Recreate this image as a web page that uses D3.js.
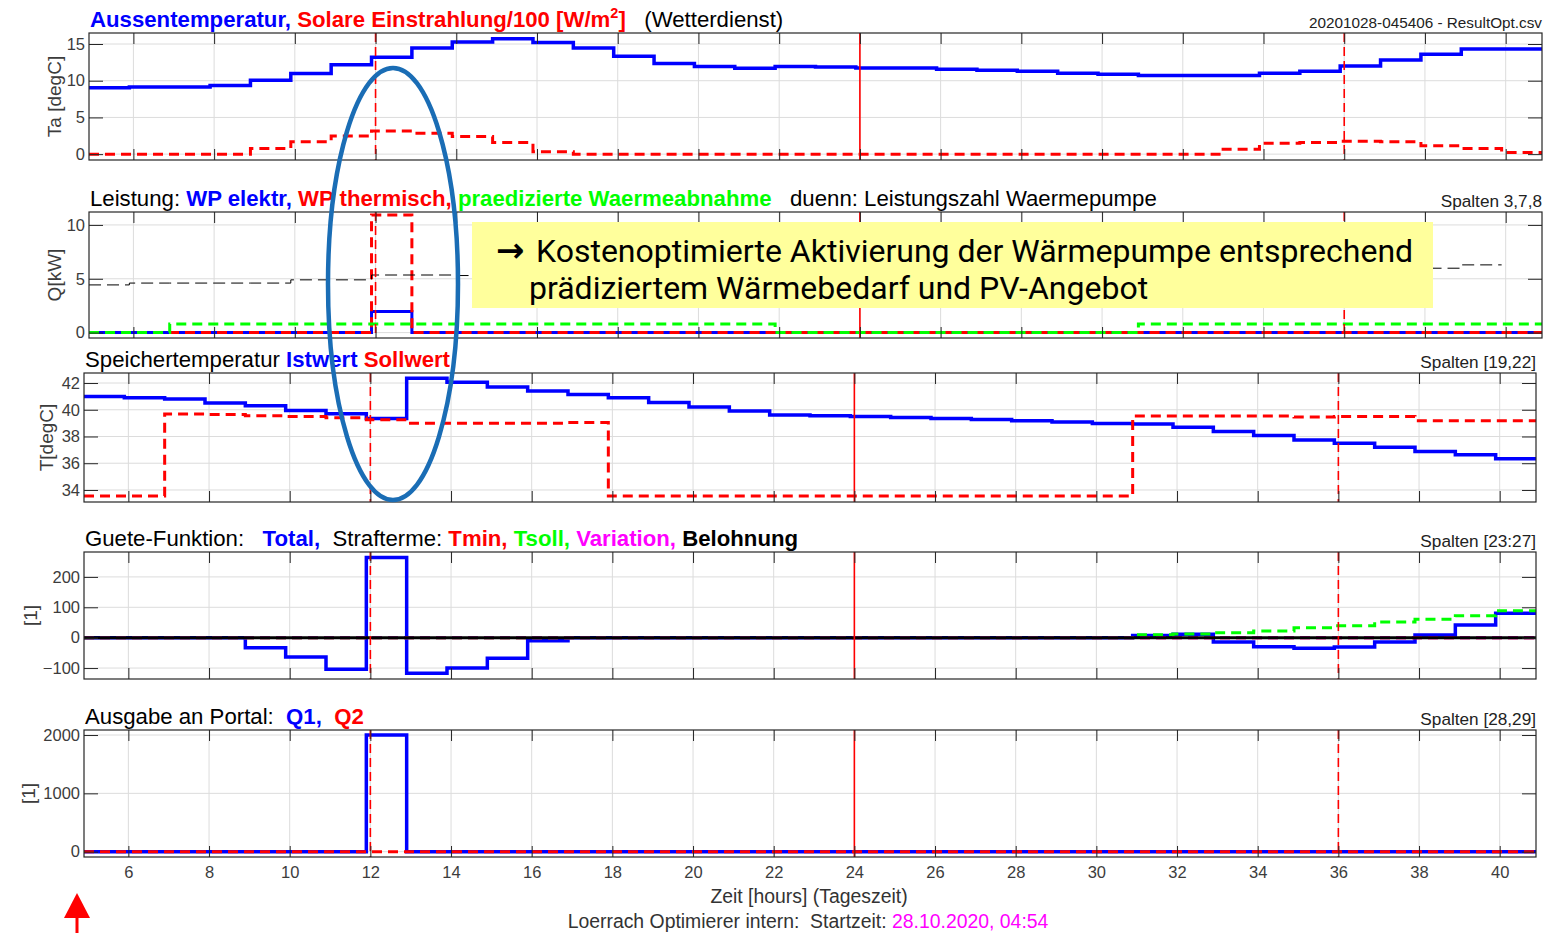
<!DOCTYPE html>
<html>
<head>
<meta charset="utf-8">
<script src="https://cdn.jsdelivr.net/npm/d3@7"></script>
<style>
  html, body { margin: 0; padding: 0; background: #ffffff; }
  svg { display: block; }
  text { white-space: pre; }
</style>
</head>
<body>
<svg id="chart" width="1562" height="933"></svg>
<script>
// ---- time base: hourly optimiser steps starting 28.10.2020 04:54 ----
const hours = [4.9, 5.9, 6.9, 7.9, 8.9, 9.9, 10.9, 11.9, 12.9, 13.9, 14.9, 15.9,
               16.9, 17.9, 18.9, 19.9, 20.9, 21.9, 22.9, 23.9, 24.9, 25.9, 26.9, 27.9,
               28.9, 29.9, 30.9, 31.9, 32.9, 33.9, 34.9, 35.9, 36.9, 37.9, 38.9, 39.9];
const hourEnd = 40.9;
const xTickValues = [6, 8, 10, 12, 14, 16, 18, 20, 22, 24, 26, 28, 30, 32, 34, 36, 38, 40];
const noonHours = [12, 36];
const midnightHours = [24];

// ---- weather service ----
const outsideTemp = [9.03, 9.16, 9.16, 9.35, 10.07, 10.97, 12.19, 13.18, 14.45, 15.26, 15.71, 15.21,
                     14.45, 13.32, 12.33, 11.92, 11.69, 11.92, 11.87, 11.74, 11.74, 11.56, 11.42, 11.29,
                     11.02, 10.88, 10.7, 10.7, 10.7, 11.02, 11.29, 12.0, 12.82, 13.59, 14.31, 14.31];
const solarPer100 = [0, 0, 0, 0, 0.77, 1.67, 2.48, 3.16, 2.84, 2.39, 1.58, 0.32,
                     0, 0, 0, 0, 0, 0, 0, 0, 0, 0, 0, 0,
                     0, 0, 0, 0, 0.68, 1.49, 1.58, 1.75, 1.7, 1.13, 0.77, 0.23];
const taTicks = [0, 5, 10, 15];

// ---- power [kW] ----
const powerElectric = [0, 0, 0, 0, 0, 0, 0, 1.95, 0, 0, 0, 0,
                       0, 0, 0, 0, 0, 0, 0, 0, 0, 0, 0, 0,
                       0, 0, 0, 0, 0, 0, 0, 0, 0, 0, 0, 0];
const powerThermal = [0, 0, 0, 0, 0, 0, 0, 10.93, 0, 0, 0, 0,
                      0, 0, 0, 0, 0, 0, 0, 0, 0, 0, 0, 0,
                      0, 0, 0, 0, 0, 0, 0, 0, 0, 0, 0, 0];
const heatDemand = [0, 0, 0.81, 0.81, 0.81, 0.81, 0.81, 0.81, 0.81, 0.81, 0.81, 0.81,
                    0.81, 0.81, 0.81, 0.81, 0.81, 0, 0, 0, 0, 0, 0, 0,
                    0, 0, 0.81, 0.81, 0.81, 0.81, 0.81, 0.81, 0.81, 0.81, 0.81, 0.81];
const copHeatPump = [4.43, 4.6, 4.6, 4.6, 4.6, 4.9, 4.9, 5.35, 5.35, 5.3, 5.3, 5.25,
                     5.2, 5.15, 5.1, 5.05, 5.0, 5.0, 4.95, 4.95, 4.95, 4.9, 4.9, 4.9,
                     4.85, 4.85, 4.85, 4.9, 4.95, 5.05, 5.2, 5.45, 5.7, 5.98, 6.29, null];
const qTicks = [0, 5, 10];

// ---- storage temperature [degC] ----
const storageActual = [41.0, 40.9, 40.8, 40.5, 40.3, 39.95, 39.7, 39.35, 42.35, 42.05, 41.7, 41.4,
                       41.15, 40.9, 40.55, 40.2, 39.9, 39.6, 39.55, 39.5, 39.43, 39.35, 39.28, 39.18,
                       39.08, 38.98, 38.93, 38.7, 38.38, 38.08, 37.73, 37.5, 37.2, 36.88, 36.63, 36.33];
const storageTarget = [33.55, 33.55, 39.68, 39.65, 39.55, 39.5, 39.4, 39.25, 39.0, 39.0, 39.0, 39.0,
                       39.05, 33.55, 33.55, 33.55, 33.55, 33.55, 33.55, 33.55, 33.55, 33.55, 33.55, 33.55,
                       33.55, 33.55, 39.53, 39.53, 39.53, 39.53, 39.45, 39.5, 39.5, 39.18, 39.18, 39.18];
const tTicks = [34, 36, 38, 40, 42];

// ---- cost function terms [1] ----
const costTotal = [0, 0, 0, 0, -33, -64, -104, 264, -117, -100, -68, -10,
                   0, 0, 0, 0, 0, 0, 0, 0, 0, 0, 0, 0,
                   0, 0, 7, 11, -14, -30, -35, -31, -14, 9, 42, 80];
const penaltyTmin = [0, 0, 0, 0, 0, 0, 0, 0, 0, 0, 0, 0,
                     0, 0, 0, 0, 0, 0, 0, 0, 0, 0, 0, 0,
                     0, 0, 0, 0, 0, 0, 0, 0, 0, 0, 0, 0];
const penaltyTsoll = [0, 0, 0, 0, 0, 0, 0, 0, 0, 0, 0, 0,
                      0, 0, 0, 0, 0, 0, 0, 0, 0, 0, 0, 0,
                      0, 0, 10, 12, 16, 22, 33, 39, 52, 61, 72, 89];
const penaltyVariation = [0, 0, 0, 0, 0, 0, 0, 0, 0, 0, 0, 0,
                          0, 0, 0, 0, 0, 0, 0, 0, 0, 0, 0, 0,
                          0, 0, 0, 0, 0, 0, 0, 0, 0, 0, 0, 0];
const reward = [0, 0, 0, 0, 0, 0, 0, 0, 0, 0, 0, 0,
                0, 0, 0, 0, 0, 0, 0, 0, 0, 0, 0, 0,
                0, 0, 0, 0, 0, 0, 0, 0, 0, 0, 0, 0];
const costTicks = [-100, 0, 100, 200];

// ---- output to portal [1] ----
const portalQ1 = [0, 0, 0, 0, 0, 0, 0, 2000, 0, 0, 0, 0,
                  0, 0, 0, 0, 0, 0, 0, 0, 0, 0, 0, 0,
                  0, 0, 0, 0, 0, 0, 0, 0, 0, 0, 0, 0];
const portalQ2 = [0, 0, 0, 0, 0, 0, 0, 0, 0, 0, 0, 0,
                  0, 0, 0, 0, 0, 0, 0, 0, 0, 0, 0, 0,
                  0, 0, 0, 0, 0, 0, 0, 0, 0, 0, 0, 0];
const portalTicks = [0, 1000, 2000];

// ---------------------------------------------------------------------------
const FONT = '"Liberation Sans", Arial, Helvetica, sans-serif';
const BLUE = "#0000ff", RED = "#ff0000", GREEN = "#00ff00", MAGENTA = "#ff00ff", BLACK = "#000000";
const AXIS = "#262626", TICKTXT = "#3c3c3c", GRID = "#dcdcdc";

const svg = d3.select("#chart").attr("font-family", FONT);
const defs = svg.append("defs");

// hold each value from its own step start to the next step start
function stepPoints(values) {
  const pts = [];
  values.forEach((v, i) => {
    const t0 = hours[i];
    const t1 = i + 1 < hours.length ? hours[i + 1] : hourEnd;
    pts.push([t0, v], [t1, v]);
  });
  return pts;
}

const panels = [
  {
    id: "weather", left: 89, right: 1542, top: 33, bottom: 160,
    yDomain: [-0.8, 16.5], yTicks: taTicks,
    ylabel: "Ta [degC]", ylabelX: 54,
    series: [
      { values: outsideTemp, color: BLUE, width: 3.5 },
      { values: solarPer100, color: RED, width: 3, dash: "10,6" }
    ],
    title: { x: 90, y: 27, parts: [
      ["Aussentemperatur,", BLUE, true],
      [" Solare Einstrahlung/100 [W/m", RED, true],
      ["2", RED, true, "sup"],
      ["]", RED, true],
      ["   (Wetterdienst)", BLACK, false]
    ]},
    note: "20201028-045406 - ResultOpt.csv", noteSize: 15.3
  },
  {
    id: "power", left: 89, right: 1542, top: 212, bottom: 338,
    yDomain: [-0.5, 11.2], yTicks: qTicks,
    ylabel: "Q[kW]", ylabelX: 54,
    series: [
      { values: powerElectric, color: BLUE, width: 3 },
      { values: powerThermal, color: RED, width: 3, dash: "10,6" },
      { values: heatDemand, color: GREEN, width: 3, dash: "10,6" },
      { values: copHeatPump, color: BLACK, width: 1, dash: "12,6" }
    ],
    title: { x: 90, y: 206, parts: [
      ["Leistung: ", BLACK, false],
      ["WP elektr,", BLUE, true],
      [" WP thermisch,", RED, true],
      [" praedizierte Waermeabnahme", GREEN, true],
      ["   duenn: Leistungszahl Waermepumpe", BLACK, false]
    ]},
    note: "Spalten 3,7,8", noteSize: 17.2
  },
  {
    id: "storage", left: 84, right: 1536, top: 373, bottom: 502,
    yDomain: [33.1, 42.75], yTicks: tTicks,
    ylabel: "T[degC]", ylabelX: 46,
    series: [
      { values: storageActual, color: BLUE, width: 3.5 },
      { values: storageTarget, color: RED, width: 3, dash: "10,6" }
    ],
    title: { x: 85, y: 367, parts: [
      ["Speichertemperatur ", BLACK, false],
      ["Istwert", BLUE, true],
      [" Sollwert", RED, true]
    ]},
    note: "Spalten [19,22]", noteSize: 17.2
  },
  {
    id: "cost", left: 84, right: 1536, top: 552, bottom: 679,
    yDomain: [-136, 282], yTicks: costTicks,
    ylabel: "[1]", ylabelX: 30,
    series: [
      { values: costTotal, color: BLUE, width: 3.5 },
      { values: penaltyTmin, color: RED, width: 3, dash: "10,6" },
      { values: penaltyTsoll, color: GREEN, width: 3, dash: "10,6" },
      { values: penaltyVariation, color: MAGENTA, width: 3, dash: "10,6" },
      { values: reward, color: BLACK, width: 3 }
    ],
    title: { x: 85, y: 546, parts: [
      ["Guete-Funktion:   ", BLACK, false],
      ["Total,", BLUE, true],
      ["  Strafterme: ", BLACK, false],
      ["Tmin,", RED, true],
      [" Tsoll,", GREEN, true],
      [" Variation,", MAGENTA, true],
      [" Belohnung", BLACK, true]
    ]},
    note: "Spalten [23:27]", noteSize: 17.2
  },
  {
    id: "portal", left: 84, right: 1536, top: 730, bottom: 857,
    yDomain: [-91, 2086], yTicks: portalTicks,
    ylabel: "[1]", ylabelX: 28,
    series: [
      { values: portalQ1, color: BLUE, width: 3.5 },
      { values: portalQ2, color: RED, width: 3, dash: "10,6" }
    ],
    title: { x: 85, y: 724, parts: [
      ["Ausgabe an Portal:  ", BLACK, false],
      ["Q1,", BLUE, true],
      ["  Q2", RED, true]
    ]},
    note: "Spalten [28,29]", noteSize: 17.2,
    xLabels: true
  }
];

function drawPanel(p) {
  const g = svg.append("g").attr("class", "panel-" + p.id);
  const x = d3.scaleLinear().domain([hours[0], hourEnd]).range([p.left, p.right]);
  const y = d3.scaleLinear().domain(p.yDomain).range([p.bottom, p.top]);

  const clipId = "clip-" + p.id;
  defs.append("clipPath").attr("id", clipId)
    .append("rect")
    .attr("x", p.left).attr("y", p.top)
    .attr("width", p.right - p.left).attr("height", p.bottom - p.top);

  // grid
  const grid = g.append("g");
  grid.selectAll("line.gx").data(xTickValues).join("line").attr("class", "gx")
    .attr("x1", d => x(d)).attr("x2", d => x(d))
    .attr("y1", p.top).attr("y2", p.bottom)
    .attr("stroke", GRID).attr("stroke-width", 1);
  grid.selectAll("line.gy").data(p.yTicks).join("line").attr("class", "gy")
    .attr("x1", p.left).attr("x2", p.right)
    .attr("y1", d => y(d)).attr("y2", d => y(d))
    .attr("stroke", GRID).attr("stroke-width", 1);

  // data
  const plot = g.append("g").attr("clip-path", `url(#${clipId})`);
  const line = d3.line()
    .defined(d => d[1] !== null && d[1] !== undefined)
    .x(d => x(d[0])).y(d => y(d[1]));
  p.series.forEach(s => {
    plot.append("path")
      .attr("d", line(stepPoints(s.values)))
      .attr("fill", "none")
      .attr("stroke", s.color)
      .attr("stroke-width", s.width)
      .attr("stroke-dasharray", s.dash || null)
      .attr("stroke-linejoin", "miter");
  });

  // noon / midnight markers
  plot.selectAll("line.noon").data(noonHours).join("line").attr("class", "noon")
    .attr("x1", d => x(d)).attr("x2", d => x(d))
    .attr("y1", p.top).attr("y2", p.bottom)
    .attr("stroke", RED).attr("stroke-width", 1.6).attr("stroke-dasharray", "9,5");
  plot.selectAll("line.midnight").data(midnightHours).join("line").attr("class", "midnight")
    .attr("x1", d => x(d)).attr("x2", d => x(d))
    .attr("y1", p.top).attr("y2", p.bottom)
    .attr("stroke", RED).attr("stroke-width", 1.6);

  // axes with inward ticks on all four sides
  const styleAxis = sel => {
    sel.select(".domain").remove();
    sel.selectAll(".tick line").attr("stroke", AXIS).attr("stroke-width", 1);
    sel.selectAll(".tick text").attr("fill", TICKTXT).attr("font-size", 16.5).attr("font-family", FONT);
  };
  g.append("g").attr("transform", `translate(0,${p.bottom})`)
    .call(d3.axisBottom(x).tickValues(xTickValues).tickSizeInner(-11).tickSizeOuter(0).tickPadding(9)
      .tickFormat(p.xLabels ? d3.format("d") : () => ""))
    .call(styleAxis);
  g.append("g").attr("transform", `translate(0,${p.top})`)
    .call(d3.axisTop(x).tickValues(xTickValues).tickSizeInner(-11).tickSizeOuter(0).tickFormat(() => ""))
    .call(styleAxis);
  g.append("g").attr("transform", `translate(${p.left},0)`)
    .call(d3.axisLeft(y).tickValues(p.yTicks).tickSizeInner(-14).tickSizeOuter(0).tickPadding(4)
      .tickFormat(d3.format("d")))
    .call(styleAxis);
  g.append("g").attr("transform", `translate(${p.right},0)`)
    .call(d3.axisRight(y).tickValues(p.yTicks).tickSizeInner(-14).tickSizeOuter(0).tickFormat(() => ""))
    .call(styleAxis);

  // box
  g.append("rect")
    .attr("x", p.left).attr("y", p.top)
    .attr("width", p.right - p.left).attr("height", p.bottom - p.top)
    .attr("fill", "none").attr("stroke", AXIS).attr("stroke-width", 1.2);

  // y label
  const cy = (p.top + p.bottom) / 2;
  g.append("text")
    .attr("transform", `translate(${p.ylabelX},${cy}) rotate(-90)`)
    .attr("text-anchor", "middle").attr("dy", "0.35em")
    .attr("font-size", 19).attr("fill", TICKTXT)
    .text(p.ylabel);

  // title built from coloured pieces
  const t = g.append("text")
    .attr("x", p.title.x).attr("y", p.title.y)
    .attr("font-size", 22.2).attr("xml:space", "preserve");
  let raised = false;
  p.title.parts.forEach(([txt, col, bold, mode]) => {
    const ts = t.append("tspan").attr("fill", col).attr("font-weight", bold ? "bold" : "normal").text(txt);
    if (mode === "sup") {
      ts.attr("font-size", 14.5).attr("dy", -9);
      raised = true;
    } else if (raised) {
      ts.attr("dy", 9);
      raised = false;
    }
  });

  // file / column note on the right
  g.append("text")
    .attr("x", p.right).attr("y", p.title.y + 1)
    .attr("text-anchor", "end").attr("font-size", p.noteSize).attr("fill", "#222")
    .text(p.note);
}

panels.forEach(drawPanel);

// x axis title and run information under the last panel
svg.append("text")
  .attr("x", 809).attr("y", 903).attr("text-anchor", "middle")
  .attr("font-size", 19.4).attr("fill", "#333")
  .text("Zeit [hours] (Tageszeit)");
const info = svg.append("text")
  .attr("x", 808).attr("y", 928).attr("text-anchor", "middle")
  .attr("font-size", 19.4).attr("xml:space", "preserve");
info.append("tspan").attr("fill", "#333").text("Loerrach Optimierer intern:  Startzeit: ");
info.append("tspan").attr("fill", MAGENTA).text("28.10.2020, 04:54");

// ---- callout: heat pump activation ----
const callout = svg.append("g");
callout.append("rect")
  .attr("x", 472).attr("y", 222).attr("width", 961).attr("height", 86)
  .attr("fill", "#ffff9c");
const line1 = callout.append("text")
  .attr("x", 496).attr("y", 262)
  .attr("font-family", "Roboto, 'Open Sans', sans-serif").attr("font-size", 32).attr("fill", "#000")
  .attr("xml:space", "preserve");
line1.append("tspan").attr("font-family", "'DejaVu Sans', sans-serif").attr("font-weight", "bold")
  .attr("font-size", 34).text("\u2192");
line1.append("tspan").attr("x", 536).text("Kostenoptimierte Aktivierung der Wärmepumpe entsprechend");
callout.append("text")
  .attr("x", 529).attr("y", 299)
  .attr("font-family", "Roboto, 'Open Sans', sans-serif").attr("font-size", 32).attr("fill", "#000")
  .text("prädiziertem Wärmebedarf und PV-Angebot");

// ellipse around the activation hour
svg.append("ellipse")
  .attr("cx", 393).attr("cy", 284).attr("rx", 65).attr("ry", 216)
  .attr("fill", "none").attr("stroke", "#1a6db5").attr("stroke-width", 4.5);

// start marker arrow
const arrow = svg.append("g").attr("fill", RED);
arrow.append("path").attr("d", "M77,893 L64,918 L90,918 Z");
arrow.append("rect").attr("x", 75.5).attr("y", 916).attr("width", 3).attr("height", 17);
</script>
</body>
</html>
